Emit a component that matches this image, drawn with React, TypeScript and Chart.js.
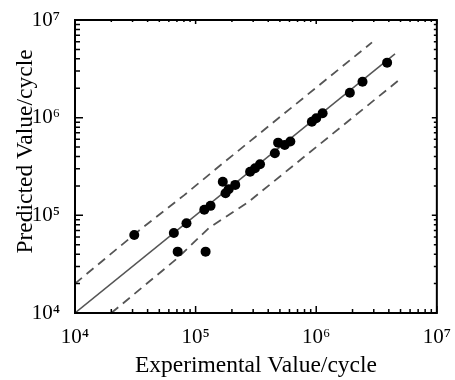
import React, { useEffect, useRef } from "react";
import { Chart, registerables } from "chart.js";

Chart.register(...registerables);

// Experimental (x) and predicted (y) fatigue lives, cycles
const experimental = [
  3.1e4, 6.6e4, 7.1e4, 8.4e4, 1.18e5, 1.21e5, 1.33e5, 1.68e5, 1.77e5, 1.88e5,
  2.13e5, 2.83e5, 3.11e5, 3.42e5, 4.54e5, 4.83e5, 5.48e5, 6.1e5, 9.2e5, 1.0e6,
  1.13e6, 1.9e6, 2.42e6, 3.87e6,
];
const predicted = [
  6.3e4, 6.6e4, 4.25e4, 8.3e4, 1.14e5, 4.25e4, 1.25e5, 2.21e5, 1.68e5, 1.85e5,
  2.05e5, 2.8e5, 3.03e5, 3.34e5, 4.32e5, 5.55e5, 5.26e5, 5.69e5, 9.1e5, 9.86e5,
  1.11e6, 1.8e6, 2.33e6, 3.66e6,
];

// Perfect-agreement line
const idealX = [1e4, 4.5e6];
const idealY = [1e4, 4.5e6];

// Factor-of-two scatter band
const upperBandX = [1e4, 3.5e4, 8e4, 1.7e5, 2.9e6];
const upperBandY = [2e4, 7.2e4, 1.6e5, 3.45e5, 5.9e6];
const lowerBandX = [2e4, 7e4, 1.3e5, 2.7e5, 4.8e6];
const lowerBandY = [1e4, 3.6e4, 7.5e4, 1.35e5, 2.4e6];

const decadeTicks = [1e4, 1e5, 1e6, 1e7];
const tickLabels = ["10⁴", "10⁵", "10⁶", "10⁷"];
const xTitle = "Experimental Value/cycle";
const yTitle = "Predicted Value/cycle";

const FONT = "'Liberation Serif', 'Times New Roman', serif";

const toPoints = (xs: number[], ys: number[]) => xs.map((x, i) => ({ x, y: ys[i] }));

const frameTicks = {
  id: "frameTicks",
  afterDatasetsDraw(chart: any) {
    const { ctx, chartArea } = chart;
    const xs = chart.scales.x;
    const ys = chart.scales.y;
    const { left, right, top, bottom } = chartArea;
    const majors: number[] = [];
    const minors: number[] = [];
    for (let e = 4; e <= 7; e++) {
      majors.push(Math.pow(10, e));
      if (e < 7) for (let m = 2; m <= 9; m++) minors.push(m * Math.pow(10, e));
    }
    ctx.save();
    ctx.strokeStyle = "#000";
    ctx.lineWidth = 1.5;
    ctx.beginPath();
    const tick = (v: number, major: boolean) => {
      const px = xs.getPixelForValue(v);
      const py = ys.getPixelForValue(v);
      ctx.moveTo(px, bottom);
      ctx.lineTo(px, bottom - (major ? 7 : 4));
      ctx.moveTo(px, top);
      ctx.lineTo(px, top + (major ? 4 : 2));
      ctx.moveTo(left, py);
      ctx.lineTo(left + (major ? 8 : 5), py);
      ctx.moveTo(right, py);
      ctx.lineTo(right - (major ? 5 : 3), py);
    };
    majors.forEach((v) => tick(v, true));
    minors.forEach((v) => tick(v, false));
    ctx.stroke();
    ctx.lineWidth = 2;
    ctx.strokeRect(left, top, right - left, bottom - top);
    ctx.restore();
  },
  afterDraw(chart: any) {
    // vertical axis title, placed as in the reference
    const { ctx, chartArea } = chart;
    ctx.save();
    ctx.translate(26, chartArea.top + (chartArea.bottom - chartArea.top) / 2 - 15);
    ctx.rotate(-Math.PI / 2);
    ctx.fillStyle = "#000";
    ctx.font = `23.5px ${FONT}`;
    ctx.textAlign = "center";
    ctx.textBaseline = "middle";
    ctx.fillText(yTitle, 0, 0);
    ctx.restore();
  },
};

export default function App() {
  const canvasRef = useRef<HTMLCanvasElement | null>(null);

  useEffect(() => {
    const canvas = canvasRef.current;
    if (!canvas) return;
    const setTicks = (scale: any) => {
      scale.ticks = decadeTicks.map((value) => ({ value }));
    };
    const tickCallback = (value: any) => {
      const i = decadeTicks.indexOf(Number(value));
      return i >= 0 ? tickLabels[i] : "";
    };
    const chart = new Chart(canvas, {
      type: "scatter",
      data: {
        datasets: [
          {
            label: "Ideal",
            data: toPoints(idealX, idealY),
            showLine: true,
            borderColor: "#555555",
            borderWidth: 1.5,
            pointRadius: 0,
            order: 3,
          },
          {
            label: "Upper band",
            data: toPoints(upperBandX, upperBandY),
            showLine: true,
            borderColor: "#555555",
            borderWidth: 1.8,
            borderDash: [9, 6],
            pointRadius: 0,
            order: 2,
          },
          {
            label: "Lower band",
            data: toPoints(lowerBandX, lowerBandY),
            showLine: true,
            borderColor: "#555555",
            borderWidth: 1.8,
            borderDash: [9, 6],
            pointRadius: 0,
            order: 2,
          },
          {
            label: "Data",
            data: toPoints(experimental, predicted),
            backgroundColor: "#000000",
            borderColor: "#000000",
            borderWidth: 0,
            pointRadius: 5,
            order: 1,
          },
        ],
      },
      options: {
        animation: false,
        responsive: false,
        devicePixelRatio: 1,
        layout: { padding: { left: 0, top: 20, right: 15, bottom: 0 } },
        plugins: { legend: { display: false }, tooltip: { enabled: false } },
        scales: {
          x: {
            type: "logarithmic",
            min: 1e4,
            max: 1e7,
            afterBuildTicks: setTicks,
            afterFit: (s: any) => {
              s.height = 67;
            },
            grid: { display: false },
            border: { display: false },
            ticks: {
              callback: tickCallback,
              autoSkip: false,
              maxRotation: 0,
              padding: 4,
              color: "#000",
              font: { family: FONT, size: 21 },
            },
            title: {
              display: true,
              text: xTitle,
              color: "#000",
              font: { family: FONT, size: 23.5 },
              padding: { top: 0, bottom: 0 },
            },
          },
          y: {
            type: "logarithmic",
            min: 1e4,
            max: 1e7,
            afterBuildTicks: setTicks,
            afterFit: (s: any) => {
              s.width = 75;
            },
            grid: { display: false },
            border: { display: false },
            ticks: {
              callback: tickCallback,
              autoSkip: false,
              padding: 7,
              color: "#000",
              font: { family: FONT, size: 21 },
            },
            title: { display: false },
          },
        },
      },
      plugins: [frameTicks],
    });
    return () => chart.destroy();
  }, []);

  return (
    <div style={{ position: "fixed", left: 0, top: 0, width: 455, height: 380, background: "#fff" }}>
      <canvas ref={canvasRef} width={455} height={380} />
    </div>
  );
}
